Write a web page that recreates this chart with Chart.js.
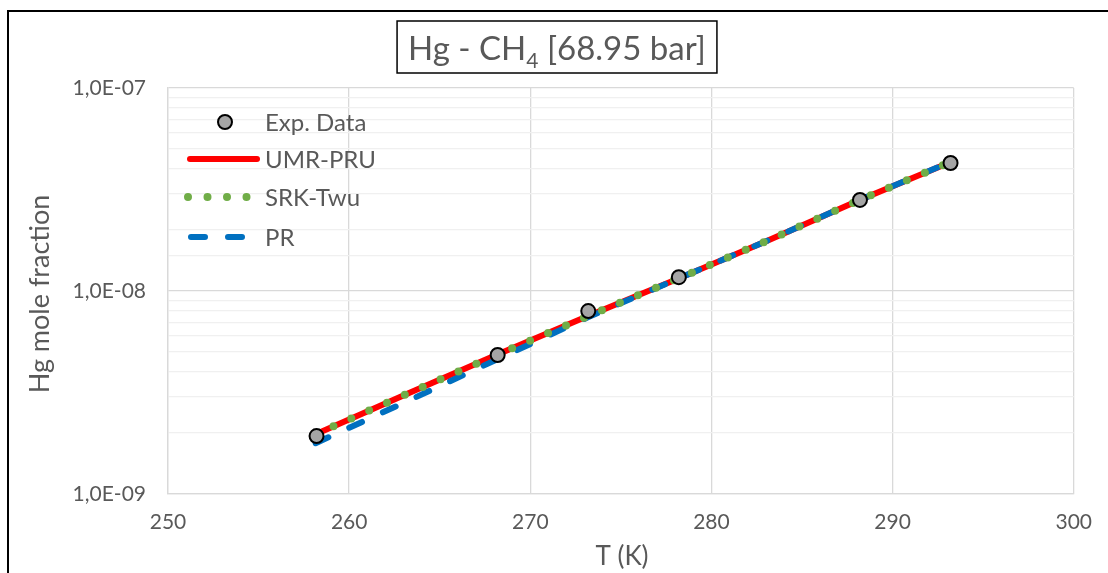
<!DOCTYPE html>
<html>
<head>
<meta charset="utf-8">
<script src="https://cdn.jsdelivr.net/npm/chart.js@4/dist/chart.umd.min.js"></script>
<style>
  html, body { margin: 0; padding: 0; background: #fff; }
  #wrap { width: 1108px; height: 573px; position: relative; }
</style>
</head>
<body>
<div id="wrap"><canvas id="c" width="1108" height="573"></canvas></div>
<script>
const expT = [258.2, 268.2, 273.2, 278.2, 288.2, 293.2];
const expY = [1.93e-9, 4.84e-9, 7.96e-9, 1.17e-8, 2.81e-8, 4.27e-8];

const modelT = [258.15, 263.15, 268.15, 273.15, 278.15, 283.15, 288.15, 293.15];
const umrY = [1.97e-9, 3.1e-9, 4.85e-9, 7.5e-9, 1.15e-8, 1.78e-8, 2.8e-8, 4.3e-8];
const srkY = [1.97e-9, 3.1e-9, 4.85e-9, 7.5e-9, 1.15e-8, 1.78e-8, 2.8e-8, 4.3e-8];
const prY  = [1.78e-9, 2.85e-9, 4.6e-9, 7.4e-9, 1.15e-8, 1.78e-8, 2.8e-8, 4.3e-8];

const xTicks = [250, 260, 270, 280, 290, 300];
const yDecades = [1e-9, 1e-8, 1e-7];

const FONT = 'Lato, "Open Sans", sans-serif';
const TXT = '#595959';

function pts(xs, ys) { return xs.map((x, i) => ({ x, y: ys[i] })); }

function isDecade(v) {
  const l = Math.log10(v);
  return Math.abs(l - Math.round(l)) < 1e-6;
}

function fmtSci(v) {
  const e = Math.round(Math.log10(v));
  const s = e < 0 ? '-' : '+';
  return '1,0E' + s + String(Math.abs(e)).padStart(2, '0');
}

const decor = {
  id: 'decor',
  beforeDraw(chart) {
    const ctx = chart.ctx;
    ctx.save();
    ctx.fillStyle = '#fff';
    ctx.fillRect(0, 0, chart.width, chart.height);
    ctx.restore();
  },
  afterDraw(chart) {
    const ctx = chart.ctx;
    ctx.save();
    // outer frame
    ctx.strokeStyle = '#000';
    ctx.lineWidth = 2;
    ctx.beginPath();
    ctx.moveTo(8, chart.height + 5);
    ctx.lineTo(8, 11);
    ctx.lineTo(chart.width + 5, 11);
    ctx.stroke();

    // title box with subscript
    ctx.fillStyle = TXT;
    ctx.textBaseline = 'alphabetic';
    const big = '33px ' + FONT, small = '21px ' + FONT;
    const parts = [['Hg - CH', big, 0], ['4', small, 8], [' [68.95 bar]', big, 0]];
    let w = 0;
    parts.forEach(p => { ctx.font = p[1]; w += ctx.measureText(p[0]).width; });
    let x = 557 - w / 2;
    const base = 60;
    parts.forEach(p => {
      ctx.font = p[1];
      ctx.fillText(p[0], x, base + p[2]);
      x += ctx.measureText(p[0]).width;
    });
    ctx.strokeStyle = '#000';
    ctx.lineWidth = 1.5;
    ctx.strokeRect(557 - w / 2 - 11, 21, w + 22, 52);

    // axis titles
    ctx.font = '26px ' + FONT;
    ctx.textAlign = 'center';
    ctx.textBaseline = 'middle';
    ctx.fillText('T (K)', 622, 557);
    ctx.font = '27px ' + FONT;
    ctx.translate(40, 294);
    ctx.rotate(-Math.PI / 2);
    ctx.fillText('Hg mole fraction', 0, 0);
    ctx.restore();

    // legend
    ctx.save();
    const ds = chart.data.datasets;
    const rows = [122, 159, 197, 237];
    ctx.font = '24px ' + FONT;
    ctx.fillStyle = TXT;
    ctx.textAlign = 'left';
    ctx.textBaseline = 'middle';
    ds.forEach((d, i) => {
      const y = rows[i];
      if (d.showLine === false) {
        ctx.beginPath();
        ctx.arc(225, y, d.pointRadius, 0, Math.PI * 2);
        ctx.fillStyle = d.pointBackgroundColor;
        ctx.fill();
        ctx.lineWidth = d.pointBorderWidth;
        ctx.strokeStyle = d.pointBorderColor;
        ctx.stroke();
      } else {
        ctx.beginPath();
        ctx.setLineDash(d.borderDash || []);
        ctx.lineCap = d.borderCapStyle || 'butt';
        ctx.lineWidth = d.borderWidth;
        ctx.strokeStyle = d.borderColor;
        ctx.moveTo(d.legendStart || 190, y);
        ctx.lineTo(257, y);
        ctx.stroke();
        ctx.setLineDash([]);
      }
      ctx.fillStyle = TXT;
      ctx.fillText(d.label, 265, y + 1);
    });
    ctx.restore();
  }
};

new Chart(document.getElementById('c'), {
  type: 'scatter',
  data: {
    datasets: [
      {
        label: 'Exp. Data',
        data: pts(expT, expY),
        showLine: false,
        pointRadius: 7,
        pointHoverRadius: 7,
        pointBackgroundColor: '#a5a5a5',
        pointBorderColor: '#000',
        pointBorderWidth: 2,
        order: 0
      },
      {
        label: 'UMR-PRU',
        data: pts(modelT, umrY),
        showLine: true,
        borderColor: '#ff0000',
        backgroundColor: '#ff0000',
        borderWidth: 6,
        borderCapStyle: 'round',
        pointRadius: 0,
        order: 3
      },
      {
        label: 'SRK-Twu',
        data: pts(modelT, srkY),
        showLine: true,
        borderColor: '#70ad47',
        backgroundColor: '#70ad47',
        borderWidth: 8,
        borderDash: [0, 19.5],
        borderCapStyle: 'round',
        pointRadius: 0,
        legendStart: 188,
        order: 1
      },
      {
        label: 'PR',
        data: pts(modelT, prY),
        showLine: true,
        borderColor: '#0070c0',
        backgroundColor: '#0070c0',
        borderWidth: 6,
        borderDash: [14, 23],
        borderCapStyle: 'round',
        pointRadius: 0,
        legendStart: 191,
        order: 2
      }
    ]
  },
  options: {
    responsive: false,
    animation: false,
    events: [],
    layout: { padding: { left: 0, right: 32, top: 88, bottom: 0 } },
    plugins: { legend: { display: false }, tooltip: { enabled: false }, title: { display: false } },
    scales: {
      x: {
        type: 'linear',
        min: 250,
        max: 300,
        afterFit: s => { s.height = 79; },
        afterBuildTicks: s => { s.ticks = xTicks.map(v => ({ value: v })); },
        ticks: { color: TXT, font: { family: FONT, size: 21 }, padding: 16, maxRotation: 0 },
        grid: { color: '#d9d9d9', lineWidth: 1.3, drawTicks: false },
        border: { color: '#d9d9d9', width: 1.3 }
      },
      y: {
        type: 'logarithmic',
        min: yDecades[0],
        max: yDecades[yDecades.length - 1],
        afterFit: s => { s.width = 168; },
        ticks: {
          autoSkip: false,
          color: TXT,
          font: { family: FONT, size: 21 },
          padding: 22,
          callback: v => isDecade(v) ? fmtSci(v) : ''
        },
        grid: {
          drawTicks: false,
          lineWidth: 1.3,
          color: c => (c.tick && isDecade(c.tick.value)) ? '#d9d9d9' : '#f0f0f0'
        },
        border: { color: '#d9d9d9', width: 1.3 }
      }
    }
  },
  plugins: [decor]
});
</script>
</body>
</html>
